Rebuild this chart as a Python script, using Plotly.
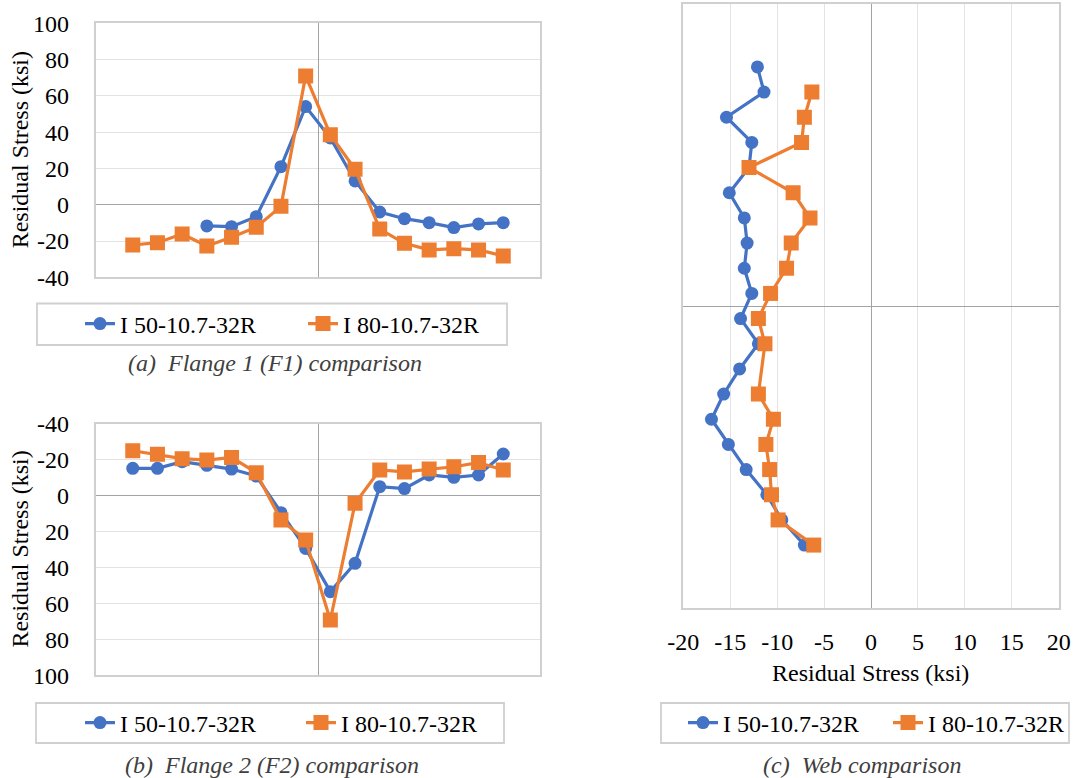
import plotly.graph_objects as go

# ---------------- data ----------------
flange_pos = [-7.5, -6.5, -5.5, -4.5, -3.5, -2.5, -1.5, -0.5, 0.5, 1.5, 2.5, 3.5, 4.5, 5.5, 6.5, 7.5]
f1_i50 = [None, None, None, -11.7, -12.1, -6.6, 21.0, 54.1, 36.8, 13.1, -4.0, -7.7, -9.9, -12.6, -10.6, -9.9]
f1_i80 = [-22.2, -20.9, -16.1, -22.7, -17.9, -12.4, -0.9, 71.0, 38.6, 19.5, -13.4, -21.3, -24.9, -24.2, -24.9, -28.2]
f2_i50 = [-15.3, -15.3, -19.0, -17.0, -14.9, -11.0, 9.4, 29.3, 53.4, 37.6, -5.1, -4.0, -11.6, -10.3, -11.6, -23.3]
f2_i80 = [-25.1, -23.1, -20.7, -19.9, -21.4, -12.9, 13.5, 24.6, 69.2, 4.2, -14.4, -13.3, -14.9, -16.2, -18.5, -14.4]

web_pos = [9.5, 8.5, 7.5, 6.5, 5.5, 4.5, 3.5, 2.5, 1.5, 0.5, -0.5, -1.5, -2.5, -3.5, -4.5, -5.5, -6.5, -7.5, -8.5, -9.5]
web_i50 = [-12.1, -11.4, -15.4, -12.7, -13.0, -15.1, -13.5, -13.2, -13.5, -12.7, -13.9, -12.0, -14.0, -15.7, -17.0, -15.2, -13.3, -11.1, -9.5, -7.1]
web_i80 = [None, -6.3, -7.1, -7.4, -13.0, -8.3, -6.5, -8.5, -9.0, -10.7, -12.0, -11.3, None, -12.0, -10.4, -11.2, -10.8, -10.6, -9.9, -6.1]

series_names = ["I 50-10.7-32R", "I 80-10.7-32R"]
flange_ticks = [-40, -20, 0, 20, 40, 60, 80, 100]
flange_ticktext = ["-40", "-20", "0", "20", "40", "60", "80", "100"]
web_ticks = [-20, -15, -10, -5, 0, 5, 10, 15, 20]
web_ticktext = ["-20", "-15", "-10", "-5", "0", "5", "10", "15", "20"]
captions = ["(a)  Flange 1 (F1) comparison", "(b)  Flange 2 (F2) comparison", "(c)  Web comparison"]
axis_title = "Residual Stress (ksi)"

# ---------------- style ----------------
W, H = 1075, 778
BLUE = "#4472C4"
ORANGE = "#ED7D31"
FONT = "Liberation Serif"
FS = 24
GRID = "#e3e3e3"
BORDER = "#d0d0d0"
ZERO = "#a3a3a3"

def px(x):
    return x / W

def py(y):
    return 1 - y / H

fig = go.Figure()

def add_pair(x1, y1, x2, y2, xa, ya, leg, horizontal=True):
    common = dict(mode="lines+markers", xaxis=xa, yaxis=ya, legend=leg)
    if horizontal:
        fig.add_trace(go.Scatter(x=x1, y=y1, name=series_names[0],
                                 line=dict(color=BLUE, width=3.2),
                                 marker=dict(symbol="circle", size=13, color=BLUE), **common))
        fig.add_trace(go.Scatter(x=x2, y=y2, name=series_names[1], connectgaps=True,
                                 line=dict(color=ORANGE, width=3.2),
                                 marker=dict(symbol="square", size=15, color=ORANGE), **common))
    else:
        fig.add_trace(go.Scatter(x=y1, y=x1, name=series_names[0],
                                 line=dict(color=BLUE, width=3.2),
                                 marker=dict(symbol="circle", size=13, color=BLUE), **common))
        fig.add_trace(go.Scatter(x=y2, y=x2, name=series_names[1], connectgaps=True,
                                 line=dict(color=ORANGE, width=3.2),
                                 marker=dict(symbol="square", size=15, color=ORANGE), **common))

add_pair(flange_pos, f1_i50, flange_pos, f1_i80, "x", "y", "legend")
add_pair(flange_pos, f2_i50, flange_pos, f2_i80, "x2", "y2", "legend2")
add_pair(web_pos, web_i50, web_pos, web_i80, "x3", "y3", "legend3", horizontal=False)

hidden_x = dict(range=[-9, 9], showticklabels=False, showgrid=False, ticks="",
                zeroline=True, zerolinecolor=ZERO, zerolinewidth=1.2,
                showline=True, mirror=True, linecolor=BORDER, linewidth=1.8, fixedrange=True)
flange_y = dict(tickvals=flange_ticks, ticktext=flange_ticktext, showgrid=True,
                gridcolor=GRID, gridwidth=1.3, zeroline=True, zerolinecolor=ZERO,
                zerolinewidth=1.2, showline=True, mirror=True, linecolor=BORDER,
                linewidth=1.8, ticks="", ticklabelstandoff=20,
                tickfont=dict(family=FONT, size=FS, color="black"))

dom_flange_x = [px(95.7), px(540.3)]
fig.update_layout(
    width=W, height=H, autosize=False,
    margin=dict(l=0, r=0, t=0, b=0, autoexpand=False),
    paper_bgcolor="white", plot_bgcolor="white",
    font=dict(family=FONT, size=FS, color="black"),
    xaxis=dict(domain=dom_flange_x, anchor="y", **hidden_x),
    yaxis=dict(domain=[py(277.3), py(23.3)], anchor="x", range=[-40, 100], **flange_y),
    xaxis2=dict(domain=dom_flange_x, anchor="y2", **hidden_x),
    yaxis2=dict(domain=[py(675.3), py(424)], anchor="x2", range=[100, -40], **flange_y),
    xaxis3=dict(domain=[px(683.3), px(1058.7)], anchor="y3", range=[-20, 20],
                tickvals=web_ticks, ticktext=web_ticktext, showgrid=True,
                gridcolor=GRID, gridwidth=1.3, zeroline=True, zerolinecolor=ZERO,
                zerolinewidth=1.2, showline=True, mirror=True, linecolor=BORDER,
                linewidth=1.8, ticks="", ticklabelstandoff=11,
                tickfont=dict(family=FONT, size=FS, color="black")),
    yaxis3=dict(domain=[py(608), py(4)], anchor="x3", range=[-12, 12],
                showticklabels=False, showgrid=False, ticks="", zeroline=True,
                zerolinecolor=ZERO, zerolinewidth=1.2, showline=True, mirror=True,
                linecolor=BORDER, linewidth=1.8),
    showlegend=True,
)

leg_common = dict(orientation="h", xanchor="left", yanchor="middle", bgcolor="rgba(0,0,0,0)",
                  borderwidth=0, font=dict(family=FONT, size=FS, color="black"),
                  entrywidthmode="pixels", itemclick=False, itemdoubleclick=False)
fig.update_layout(
    legend=dict(x=px(80), y=py(324), entrywidth=178, **leg_common),
    legend2=dict(x=px(80), y=py(723), entrywidth=176, **leg_common),
    legend3=dict(x=px(683), y=py(723), entrywidth=160, **leg_common),
)

# legend boxes
boxes = [(37, 303.5, 507, 345), (36, 703, 504, 743), (661, 703, 1069, 743)]
for (x0, y0, x1, y1) in boxes:
    fig.add_shape(type="rect", xref="paper", yref="paper",
                  x0=px(x0), x1=px(x1), y0=py(y1), y1=py(y0),
                  line=dict(color=BORDER, width=1.8), fillcolor="rgba(0,0,0,0)", layer="below")

# axis titles
for yc in (150.3, 549.6):
    fig.add_annotation(text=axis_title, xref="paper", yref="paper", x=px(20), y=py(yc),
                       textangle=-90, showarrow=False, xanchor="center", yanchor="middle",
                       font=dict(family=FONT, size=FS, color="black"))
fig.add_annotation(text=axis_title, xref="paper", yref="paper", x=px(870), y=py(673),
                   showarrow=False, xanchor="center", yanchor="middle",
                   font=dict(family=FONT, size=FS, color="black"))

# captions
for text, (xc, yc) in zip(captions, [(274.5, 363), (272, 765), (862, 765)]):
    fig.add_annotation(text="<i>" + text.replace("  ", "&nbsp; ") + "</i>", xref="paper", yref="paper",
                       x=px(xc), y=py(yc), showarrow=False, xanchor="center", yanchor="middle",
                       font=dict(family=FONT, size=FS, color="#404040"))

fig.write_html("out.html", config={"displayModeBar": False},
               post_script="document.body.style.margin='0';document.body.style.overflow='hidden';")
